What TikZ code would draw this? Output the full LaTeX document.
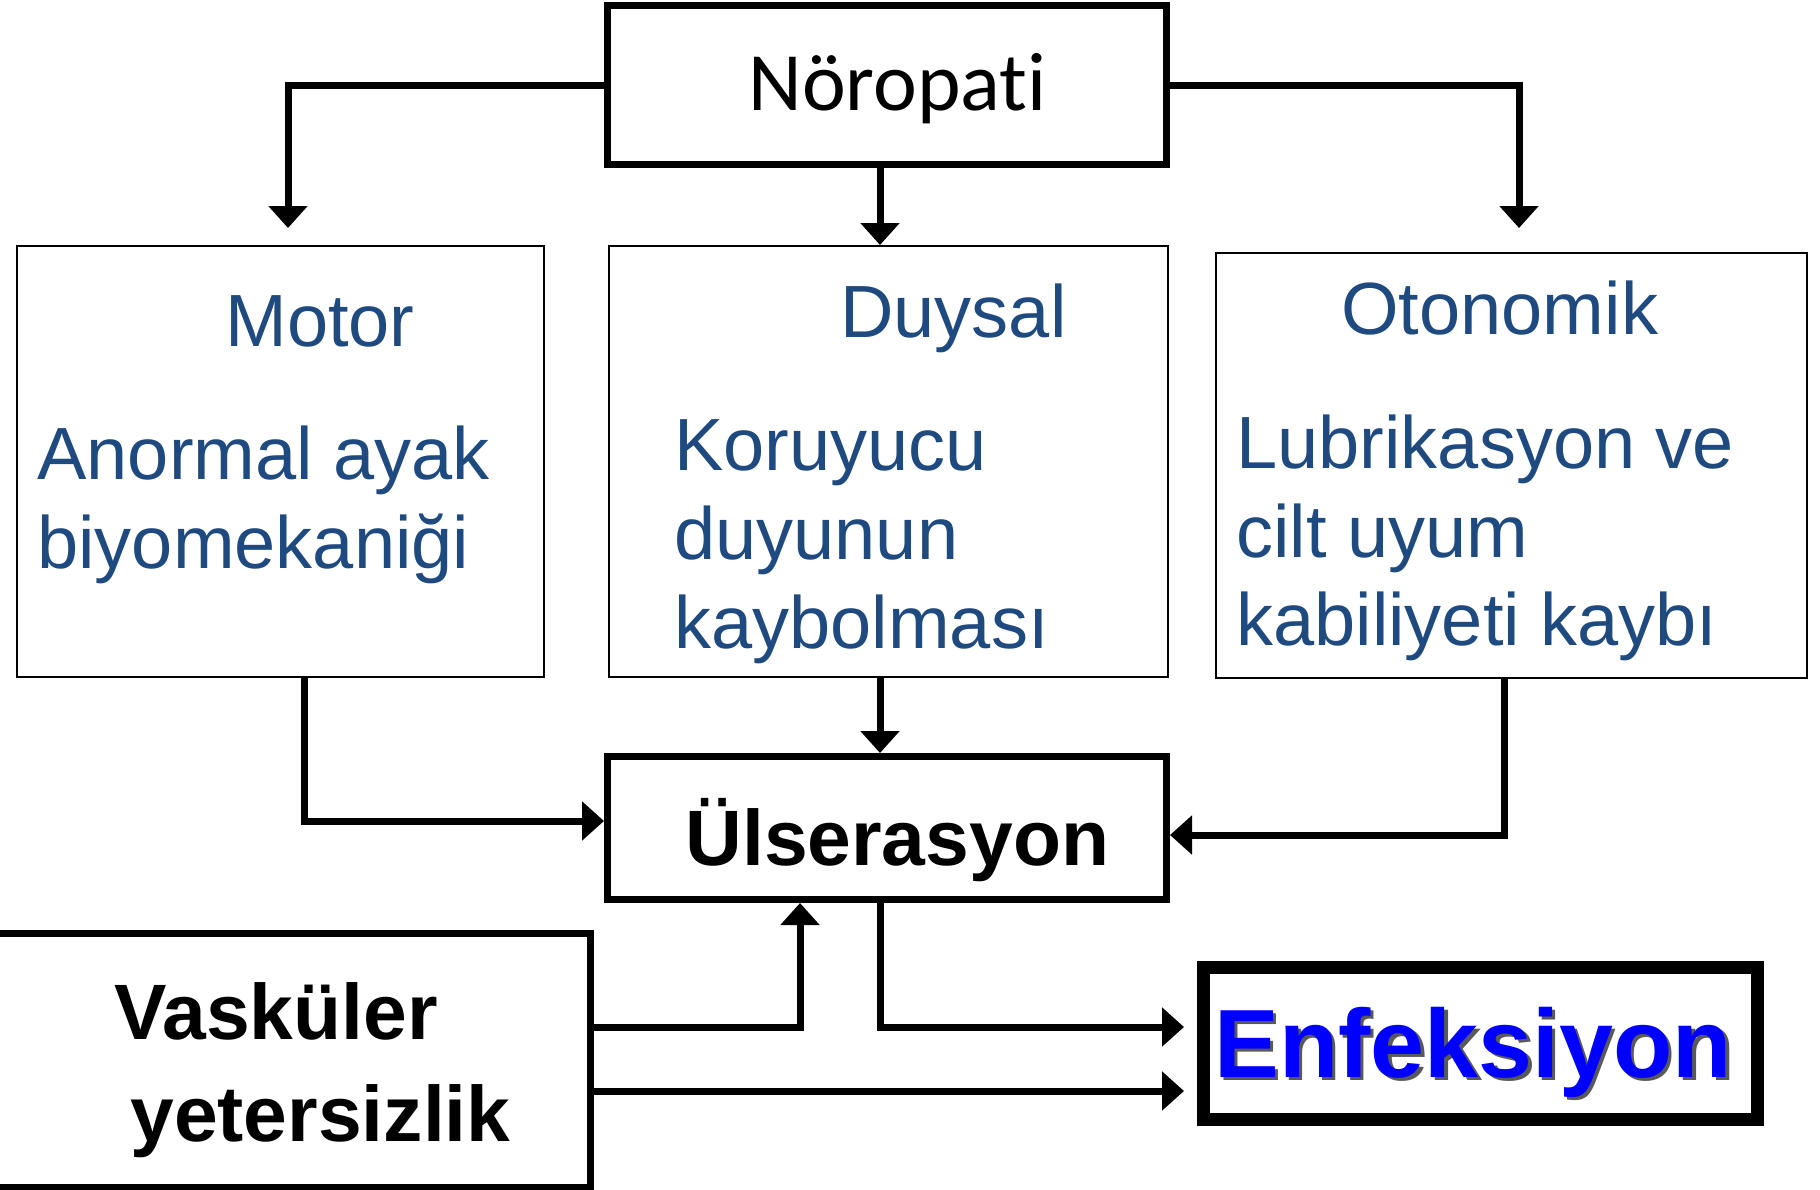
\documentclass[tikz,border=0pt]{standalone}
\usepackage{fontspec}
\setmainfont{Liberation Sans}
\newfontfamily\calfont[Ligatures={NoCommon,NoRequired,NoContextual}]{Carlito}
\usetikzlibrary{arrows.meta}
\definecolor{tblue}{HTML}{1F4A80}
\definecolor{eblue}{HTML}{0000FF}
\begin{document}
\begin{tikzpicture}[x=0.5pt,y=-0.5pt,
  thickbox/.style={draw=black, line width=3.5pt, fill=white, inner sep=0pt},
  thinbox/.style={draw=black, line width=1pt, fill=white, inner sep=0pt},
  enfbox/.style={draw=black, line width=6.5pt, fill=white, inner sep=0pt},
  conn/.style={draw=black, line width=3.5pt, line join=miter, -{Triangle[width=19pt,length=11pt]}},
  btxt/.style={text=tblue, inner sep=0pt, anchor=base west, font=\fontsize{37pt}{44pt}\selectfont},
  ktxt/.style={text=black, inner sep=0pt, anchor=base west, font=\fontsize{39.3pt}{47pt}\selectfont\bfseries},
]
\useasboundingbox (0,0) rectangle (1820,1189);
\fill[white] (0,0) rectangle (1820,1189);

% boxes
\node[thickbox, minimum width=279.5pt, minimum height=79.5pt] (nor) at (887,85) {};
\node[thinbox, minimum width=263.5pt, minimum height=215.5pt] (mot) at (280.5,461.5) {};
\node[thinbox, minimum width=279.5pt, minimum height=215.5pt] (duy) at (888,461.5) {};
\node[thinbox, minimum width=295.5pt, minimum height=212.75pt] (oto) at (1511,465.25) {};
\node[thickbox, minimum width=279.5pt, minimum height=71.5pt] (ulc) at (887,828) {};
\node[thickbox, minimum width=305.25pt, minimum height=127pt] (vas) at (285.25,1060) {};
\node[enfbox, minimum width=277pt, minimum height=76pt] (enf) at (1480.5,1043.5) {};

% texts
\node[inner sep=0pt, anchor=base west, font=\fontsize{41.5pt}{50pt}\calfont] (tnor) at (748,110) {Nöropat{}i};
\node[btxt] (tmot) at (225,346) {Motor};
\node[btxt] (tmot1) at (37,479) {Anormal ayak};
\node[btxt] (tmot2) at (37,568) {biyomekaniği};
\node[btxt] (tduy) at (840,337) {Duysal};
\node[btxt] (tduy1) at (674,470) {Koruyucu};
\node[btxt] (tduy2) at (674,559) {duyunun};
\node[btxt] (tduy3) at (674,648) {kaybolması};
\node[btxt] (toto) at (1341,334) {Otonomik};
\node[btxt] (toto1) at (1236,468) {Lubrikasyon ve};
\node[btxt] (toto2) at (1236,557) {cilt uyum};
\node[btxt] (toto3) at (1236,645) {kabiliyeti kaybı};
\node[ktxt] (tulc) at (685,865) {Ülserasyon};
\node[ktxt] (tvas1) at (114,1039) {Vasküler};
\node[ktxt] (tvas2) at (130,1141) {yetersizlik};
\node[inner sep=0pt, anchor=base west, text=black!65, font=\fontsize{48.5pt}{58pt}\selectfont\bfseries] (tenfs) at (1217.5,1080.5) {Enfeksiyon};
\node[inner sep=0pt, anchor=base west, text=eblue, font=\fontsize{48.5pt}{58pt}\selectfont\bfseries] (tenf) at (1214,1077) {Enfeksiyon};

% connectors
\coordinate (mtip) at (288,228);
\coordinate (otip) at (1519,228);
\coordinate (cx) at (880,0);
\coordinate (mcx) at (304,821);
\coordinate (ocx) at (1504,835);
\coordinate (v1) at (800,1027);
\coordinate (etip1) at (1184,1027);
\coordinate (etip2) at (1184,1091);

\draw[conn] (nor.west) -| (mtip);
\draw[conn] (nor.east) -| (otip);
\draw[conn] (nor.south -| cx) -- (duy.north -| cx);
\draw[conn] (mot.south -| mcx) |- (ulc.west |- mcx);
\draw[conn] (duy.south -| cx) -- (ulc.north -| cx);
\draw[conn] (oto.south -| ocx) |- (ulc.east |- ocx);
\draw[conn] (vas.east |- v1) -| (ulc.south -| v1);
\draw[conn] (ulc.south -| cx) |- (etip1);
\draw[conn] (vas.east |- etip2) -- (etip2);
\end{tikzpicture}
\end{document}
